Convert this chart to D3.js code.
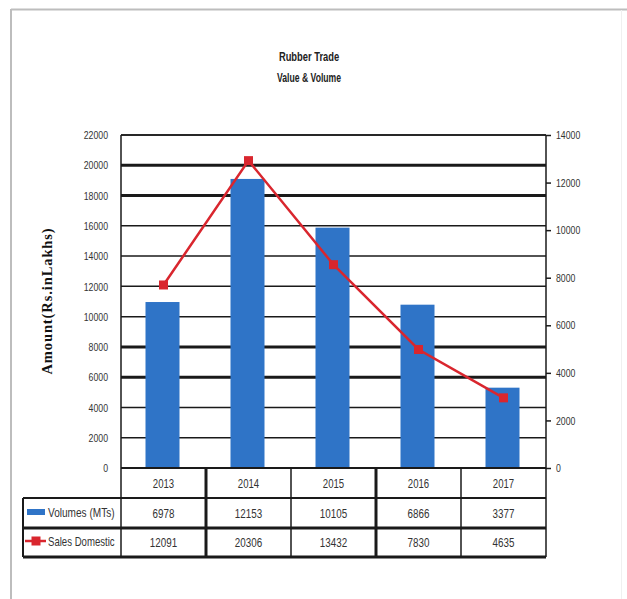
<!DOCTYPE html>
<html>
<head>
<meta charset="utf-8">
<script src="https://cdn.jsdelivr.net/npm/d3@7"></script>
<style>
  html, body { margin: 0; padding: 0; background: #fff; }
  svg { display: block; }
</style>
</head>
<body>
<svg id="chart" width="627" height="599"></svg>
<script>
// Rubber trade: volumes (bars, right axis) and domestic sales (line, left axis)
const years = ["2013", "2014", "2015", "2016", "2017"];
const volumes = [6978, 12153, 10105, 6866, 3377];
const salesDomestic = [12091, 20306, 13432, 7830, 4635];
const leftTicks = [0, 2000, 4000, 6000, 8000, 10000, 12000, 14000, 16000, 18000, 20000, 22000];
const rightTicks = [0, 2000, 4000, 6000, 8000, 10000, 12000, 14000];
const seriesNames = ["Volumes (MTs)", "Sales Domestic"];
const titleLines = ["Rubber Trade", "Value & Volume"];
const yLabel = "Amount(Rs.inLakhs)";

const svg = d3.select("#chart");
const plot = { left: 121, right: 546, top: 135, bottom: 468 };
const barColor = "#2f74c7";
const lineColor = "#d9262e";
const ink = "#1a1a1a";
const sansFamily = "'Liberation Sans', Arial, sans-serif";
const squeeze = 0.78; // horizontal compression for a narrow sans look

// draws a horizontally compressed label anchored at (x, y)
function narrowText(parent, x, y, str, opts) {
  const o = Object.assign({ size: 11, anchor: "start", weight: "normal", fill: "#333", sx: squeeze }, opts || {});
  return parent.append("text")
    .attr("transform", `translate(${x},${y}) scale(${o.sx},1)`)
    .attr("text-anchor", o.anchor)
    .attr("font-family", sansFamily)
    .attr("font-size", o.size)
    .attr("font-weight", o.weight)
    .attr("fill", o.fill)
    .text(str);
}

// outer frame of the chart object
svg.append("line").attr("x1", 11).attr("y1", 9.5).attr("x2", 627).attr("y2", 9.5)
  .attr("stroke", "#bdbdbd").attr("stroke-width", 2);
svg.append("line").attr("x1", 11).attr("y1", 9).attr("x2", 11).attr("y2", 599)
  .attr("stroke", "#bdbdbd").attr("stroke-width", 2);
svg.append("line").attr("x1", 621.5).attr("y1", 10).attr("x2", 621.5).attr("y2", 599)
  .attr("stroke", "#f0f0f0").attr("stroke-width", 1);

// titles
narrowText(svg, 309, 61, titleLines[0], { size: 13, anchor: "middle", weight: "bold", fill: "#222", sx: 0.72 });
narrowText(svg, 309, 82, titleLines[1], { size: 12, anchor: "middle", weight: "bold", fill: "#222", sx: 0.72 });

// scales
const x = d3.scaleBand().domain(years).range([plot.left, plot.right]).padding(0);
const yL = d3.scaleLinear().domain([0, 22000]).range([plot.bottom, plot.top]);
const yR = d3.scaleLinear().domain([0, 14000]).range([plot.bottom, plot.top]);

// horizontal gridlines
const heavy = new Set([20000, 18000, 8000, 6000]);
svg.append("g").selectAll("line").data(leftTicks.filter(d => d > 0)).join("line")
  .attr("x1", plot.left).attr("x2", plot.right)
  .attr("y1", d => yL(d)).attr("y2", d => yL(d))
  .attr("stroke", ink).attr("stroke-width", d => heavy.has(d) ? 3 : 1.5);

// plot frame (left and right edges)
svg.append("line").attr("x1", plot.left).attr("x2", plot.left)
  .attr("y1", plot.top).attr("y2", plot.bottom).attr("stroke", ink).attr("stroke-width", 1.5);
svg.append("line").attr("x1", plot.right).attr("x2", plot.right)
  .attr("y1", plot.top).attr("y2", plot.bottom).attr("stroke", ink).attr("stroke-width", 1.5);

// compress the tick labels produced by an axis
function narrowAxisText(g, sx) {
  g.selectAll(".tick text").each(function () {
    const el = d3.select(this);
    const tx = +el.attr("x");
    el.attr("x", 0)
      .attr("transform", `translate(${tx},0) scale(${sx},1)`)
      .attr("font-family", sansFamily)
      .attr("font-size", 11.5)
      .attr("fill", "#333");
  });
}

// left axis labels (no tick marks)
const leftAxis = d3.axisLeft(yL).tickValues(leftTicks).tickSize(0).tickPadding(13)
  .tickFormat(d3.format("d"));
const gL = svg.append("g").attr("transform", `translate(${plot.left},0)`).call(leftAxis);
gL.select(".domain").remove();
narrowAxisText(gL, 0.76);

// right axis with outward ticks
const rightAxis = d3.axisRight(yR).tickValues(rightTicks).tickSize(5).tickPadding(5)
  .tickFormat(d3.format("d"));
const gR = svg.append("g").attr("transform", `translate(${plot.right},0)`).call(rightAxis);
gR.select(".domain").remove();
gR.selectAll("line").attr("stroke", ink).attr("stroke-width", 1.5);
narrowAxisText(gR, 0.76);

// bars: volumes against the right axis
const barW = x.bandwidth() * 0.4;
svg.append("g").selectAll("rect").data(years).join("rect")
  .attr("x", d => x(d) + (x.bandwidth() - barW) / 2 - 1)
  .attr("width", barW)
  .attr("y", (d, i) => yR(volumes[i]))
  .attr("height", (d, i) => plot.bottom - yR(volumes[i]))
  .attr("fill", barColor);

// line: domestic sales against the left axis
const line = d3.line()
  .x((d, i) => x(years[i]) + x.bandwidth() / 2)
  .y(d => yL(d));
svg.append("path").datum(salesDomestic).attr("d", line)
  .attr("fill", "none").attr("stroke", lineColor).attr("stroke-width", 2.5);
svg.append("g").selectAll("rect").data(salesDomestic).join("rect")
  .attr("x", (d, i) => x(years[i]) + x.bandwidth() / 2 - 4.5)
  .attr("y", d => yL(d) - 4.5)
  .attr("width", 9).attr("height", 9)
  .attr("fill", lineColor);

// top border of plot
svg.append("line").attr("x1", plot.left).attr("x2", plot.right)
  .attr("y1", plot.top).attr("y2", plot.top).attr("stroke", ink).attr("stroke-width", 1.5);

// data table below the plot
const rowH = [plot.bottom, 498, 528, 557];
const legendLeft = 23;
const t = svg.append("g");
years.forEach(yr => {
  narrowText(t, x(yr) + x.bandwidth() / 2, (rowH[0] + rowH[1]) / 2 + 4.5, yr, { size: 12, anchor: "middle", sx: 0.8 });
});
[volumes, salesDomestic].forEach((vals, r) => {
  vals.forEach((v, i) => {
    narrowText(t, x(years[i]) + x.bandwidth() / 2, (rowH[r + 1] + rowH[r + 2]) / 2 + 4.5, String(v),
      { size: 12, anchor: "middle", sx: 0.82 });
  });
});
// horizontal table rules
const hRules = [
  { y: rowH[0], x1: plot.left, w: 2 },
  { y: rowH[1], x1: legendLeft, w: 2 },
  { y: rowH[2], x1: legendLeft, w: 3 },
  { y: rowH[3], x1: legendLeft, w: 3 }
];
t.selectAll("line.h").data(hRules).join("line").attr("class", "h")
  .attr("x1", d => d.x1).attr("x2", plot.right).attr("y1", d => d.y).attr("y2", d => d.y)
  .attr("stroke", ink).attr("stroke-width", d => d.w);
// vertical table rules
const colEdges = years.map(d => x(d)).concat([plot.right]);
const heavyCols = new Set([1, 3]);
t.selectAll("line.v").data(colEdges).join("line").attr("class", "v")
  .attr("x1", d => d).attr("x2", d => d).attr("y1", rowH[0]).attr("y2", rowH[3])
  .attr("stroke", ink).attr("stroke-width", (d, i) => heavyCols.has(i) ? 3 : 1.5);
t.append("line").attr("x1", legendLeft).attr("x2", legendLeft)
  .attr("y1", rowH[1]).attr("y2", rowH[3]).attr("stroke", ink).attr("stroke-width", 2);

// legend keys inside the table
t.append("rect").attr("x", 27).attr("y", 509).attr("width", 18).attr("height", 6).attr("fill", barColor);
t.append("line").attr("x1", 25).attr("x2", 46).attr("y1", 541).attr("y2", 541)
  .attr("stroke", lineColor).attr("stroke-width", 2.5);
t.append("rect").attr("x", 31.5).attr("y", 536.5).attr("width", 9).attr("height", 9).attr("fill", lineColor);
narrowText(t, 48, 516.5, seriesNames[0], { size: 12, sx: 0.84 });
narrowText(t, 48, 545.5, seriesNames[1], { size: 12, sx: 0.8 });

// left axis title
svg.append("text")
  .attr("transform", "translate(52,301) rotate(-90)")
  .attr("text-anchor", "middle")
  .attr("font-family", "'Liberation Serif', 'DejaVu Serif', serif")
  .attr("font-weight", "bold").attr("font-size", 14.5)
  .attr("letter-spacing", 0.9)
  .attr("fill", "#111").text(yLabel);
</script>
</body>
</html>
